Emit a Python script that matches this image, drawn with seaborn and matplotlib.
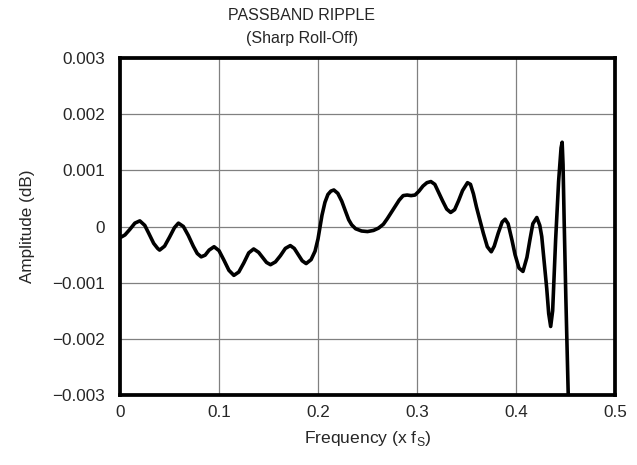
import matplotlib
matplotlib.use("Agg")
import matplotlib.pyplot as plt
import seaborn as sns
import pandas as pd

freq = [0.000, 0.005, 0.010, 0.015, 0.020, 0.025, 0.029, 0.034, 0.038, 0.040,
        0.045, 0.050, 0.055, 0.059, 0.064, 0.069, 0.074, 0.078, 0.082, 0.086,
        0.090, 0.095, 0.100, 0.105, 0.110, 0.115, 0.120, 0.125, 0.130, 0.135,
        0.140, 0.144, 0.148, 0.152, 0.157, 0.162, 0.167, 0.172, 0.176, 0.180,
        0.184, 0.188, 0.193, 0.197, 0.200, 0.204, 0.207, 0.210, 0.213, 0.216,
        0.220, 0.224, 0.228, 0.231, 0.234, 0.238, 0.244, 0.250, 0.256, 0.261,
        0.266, 0.270, 0.274, 0.278, 0.282, 0.286, 0.290, 0.294, 0.298, 0.302,
        0.306, 0.310, 0.314, 0.318, 0.322, 0.326, 0.330, 0.334, 0.338, 0.342,
        0.346, 0.351, 0.354, 0.357, 0.360, 0.364, 0.367, 0.371, 0.375, 0.378,
        0.382, 0.386, 0.389, 0.392, 0.396, 0.399, 0.403, 0.407, 0.411, 0.414,
        0.417, 0.421, 0.424, 0.426, 0.428, 0.431, 0.433, 0.435, 0.437, 0.440,
        0.443, 0.4455, 0.4466, 0.4475, 0.4486, 0.4503, 0.4527, 0.4535]

amplitude = [-0.00020, -0.00015, -0.00005, 0.00006, 0.00010, 0.00002, -0.00012, -0.00030, -0.00039, -0.00042,
             -0.00035, -0.00019, -0.00002, 0.00006, 0.00000, -0.00016, -0.00035, -0.00048, -0.00054, -0.00051,
             -0.00042, -0.00036, -0.00043, -0.00060, -0.00078, -0.00087, -0.00081, -0.00065, -0.00047, -0.00040,
             -0.00046, -0.00055, -0.00064, -0.00068, -0.00063, -0.00052, -0.00039, -0.00034, -0.00039, -0.00050,
             -0.00061, -0.00066, -0.00059, -0.00044, -0.00022, 0.00020, 0.00043, 0.00057, 0.00063, 0.00065,
             0.00059, 0.00045, 0.00026, 0.00012, 0.00003, -0.00004, -0.00008, -0.00009, -0.00007, -0.00003,
             0.00004, 0.00014, 0.00025, 0.00036, 0.00047, 0.00055, 0.00056, 0.00055, 0.00056, 0.00063,
             0.00072, 0.00078, 0.00080, 0.00075, 0.00060, 0.00045, 0.00031, 0.00025, 0.00030, 0.00046,
             0.00064, 0.00078, 0.00075, 0.00058, 0.00035, 0.00008, -0.00012, -0.00036, -0.00045, -0.00035,
             -0.00012, 0.00008, 0.00013, 0.00005, -0.00025, -0.00050, -0.00074, -0.00080, -0.00055, -0.00024,
             0.00005, 0.00016, 0.00002, -0.00018, -0.00055, -0.00110, -0.00155, -0.00178, -0.00150, -0.00024,
             0.00080, 0.00140, 0.00150, 0.00110, 0.00012, -0.00125, -0.00297, -0.00360]

x_ticks = [0, 0.1, 0.2, 0.3, 0.4, 0.5]
x_tick_labels = ["0", "0.1", "0.2", "0.3", "0.4", "0.5"]
y_ticks = [-0.003, -0.002, -0.001, 0, 0.001, 0.002, 0.003]
y_tick_labels = ["\u22120.003", "\u22120.002", "\u22120.001", "0", "0.001", "0.002", "0.003"]

sns.set_style("white")
plt.rcParams["font.family"] = ["Liberation Sans", "DejaVu Sans"]
plt.rcParams["mathtext.fontset"] = "custom"
plt.rcParams["mathtext.rm"] = "Liberation Sans"

df = pd.DataFrame({"freq": freq, "amp": amplitude})

fig = plt.figure(figsize=(6.37, 4.65), dpi=100)
ax = fig.add_axes([0.1884, 0.1505, 0.9655 - 0.1884, 0.8753 - 0.1505])

sns.lineplot(data=df, x="freq", y="amp", ax=ax, color="black", linewidth=2.6,
             sort=False, estimator=None)
ax.lines[0].set_solid_joinstyle("round")

ax.set_xlim(0, 0.5)
ax.set_ylim(-0.003, 0.003)
ax.set_xticks(x_ticks)
ax.set_xticklabels(x_tick_labels, fontsize=12.3)
ax.set_yticks(y_ticks)
ax.set_yticklabels(y_tick_labels, fontsize=12.3)
ax.tick_params(axis="x", length=0, pad=7)
ax.tick_params(axis="y", length=0, pad=11)
ax.grid(True, color="#808080", linewidth=0.9)
ax.set_axisbelow(True)
for s in ax.spines.values():
    s.set_visible(True)
    s.set_color("black")
    s.set_linewidth(2.7)

ax.set_xlabel(r"Frequency (x f$_\mathregular{S}$)", fontsize=12.6, labelpad=7)
ax.set_ylabel("Amplitude (dB)", fontsize=12.3, labelpad=12)
fig.text(0.474, 1 - 15 / 465, "PASSBAND RIPPLE", ha="center", va="center", fontsize=11.5)
fig.text(0.474, 1 - 38 / 465, "(Sharp Roll-Off)", ha="center", va="center", fontsize=11.5)

fig.savefig("out.png", dpi=100)
